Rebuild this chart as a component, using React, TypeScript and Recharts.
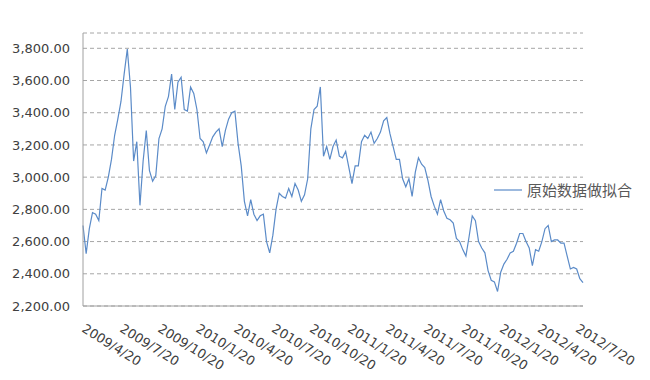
import { CartesianGrid, Legend, Line, LineChart, XAxis, YAxis } from "recharts";

const values2009 = [
  2700, 2525, 2680, 2780, 2770, 2730, 2930, 2920, 3000, 3110, 3260, 3360, 3470,
  3640, 3795, 3560, 3100, 3220, 2825, 3100, 3290, 3040, 2975, 3010, 3240, 3300,
  3440, 3500, 3640, 3420, 3590, 3620, 3420, 3410, 3560, 3520,
];
const values2010 = [
  3420, 3240, 3220, 3150, 3200, 3250, 3280, 3300, 3190, 3290, 3360, 3400, 3410,
  3210, 3070, 2850, 2760, 2860, 2770, 2730, 2760, 2770, 2600, 2530, 2640, 2800,
  2900, 2880, 2870, 2930, 2880, 2960, 2920, 2850, 2890, 2990, 3300, 3420, 3440,
  3560, 3130, 3190, 3110, 3190, 3230, 3130, 3120, 3160, 3060, 2960, 3070, 3070,
];
const values2011 = [
  3220, 3260, 3240, 3280, 3210, 3240, 3280, 3350, 3370, 3270, 3190, 3110, 3110,
  2990, 2940, 2990, 2880, 3030, 3120, 3080, 3060, 2980, 2880, 2820, 2770, 2860,
  2790, 2745, 2735, 2715, 2620, 2600, 2550, 2510, 2630, 2760, 2730, 2600, 2560,
  2530, 2420, 2360, 2350, 2290, 2410, 2460, 2490, 2530, 2540, 2590, 2650, 2650,
];
const values2012 = [
  2600, 2560, 2450, 2550, 2540, 2600, 2680, 2700, 2600, 2610, 2610, 2590, 2590,
  2510, 2430, 2440, 2430, 2370, 2345,
];

const quarterLabels = [
  "2009/4/20", "2009/7/20", "2009/10/20", "2010/1/20", "2010/4/20",
  "2010/7/20", "2010/10/20", "2011/1/20", "2011/4/20", "2011/7/20",
  "2011/10/20", "2012/1/20", "2012/4/20", "2012/7/20",
];

const yTicks = [2200, 2400, 2600, 2800, 3000, 3200, 3400, 3600, 3800];
const seriesName = "原始数据做拟合";
const POINTS_PER_QUARTER = 12;

const data = [...values2009, ...values2010, ...values2011, ...values2012].map(
  (value, idx) => ({ idx, value })
);

const lineColor = "#5b8bc8";
const textColor = "#404040";
const font = "'DejaVu Sans', sans-serif";

function DateTick({ x, y, payload }: any) {
  const label = quarterLabels[payload.value / POINTS_PER_QUARTER] ?? "";
  const tx = x - 2;
  const ty = y + 25;
  return (
    <text
      x={tx}
      y={ty}
      transform={`rotate(32 ${tx} ${ty})`}
      textAnchor="start"
      fill={textColor}
      fontSize={13}
      fontFamily={font}
    >
      {label}
    </text>
  );
}

function LegendBox() {
  return (
    <div style={{ display: "flex", alignItems: "center", lineHeight: "20px" }}>
      <svg width={28} height={4}>
        <line x1={0} y1={2} x2={28} y2={2} stroke={lineColor} strokeWidth={1.2} />
      </svg>
      <span
        style={{
          marginLeft: 5,
          fontSize: 15,
          color: "#595959",
          fontFamily: "'Noto Sans CJK SC', sans-serif",
        }}
      >
        {seriesName}
      </span>
    </div>
  );
}

export default function App() {
  return (
    <LineChart
      width={640}
      height={364}
      data={data}
      margin={{ top: 25, right: 65, left: 3, bottom: 6 }}
    >
      <CartesianGrid
        vertical={false}
        stroke="#a6a6a6"
        strokeDasharray="4 3"
      />
      <XAxis
        dataKey="idx"
        interval={POINTS_PER_QUARTER - 1}
        tick={<DateTick />}
        tickLine={false}
        tickSize={0}
        tickMargin={0}
        height={60}
        stroke="#a0a0a0"
      />
      <YAxis
        domain={[2200, 3895]}
        ticks={yTicks}
        allowDataOverflow
        width={72}
        tickLine={false}
        tickMargin={7}
        stroke="#a0a0a0"
        tick={{ fill: textColor, fontSize: 13, fontFamily: font }}
        tickFormatter={(v: number) =>
          v.toLocaleString("en-US", { minimumFractionDigits: 2, maximumFractionDigits: 2 })
        }
      />
      <Legend
        layout="horizontal"
        verticalAlign="middle"
        align="center"
        wrapperStyle={{ left: 486, top: 172, width: "auto" }}
        content={<LegendBox />}
      />
      <Line
        type="linear"
        dataKey="value"
        name={seriesName}
        stroke={lineColor}
        strokeWidth={1.2}
        dot={false}
        isAnimationActive={false}
      />
    </LineChart>
  );
}
